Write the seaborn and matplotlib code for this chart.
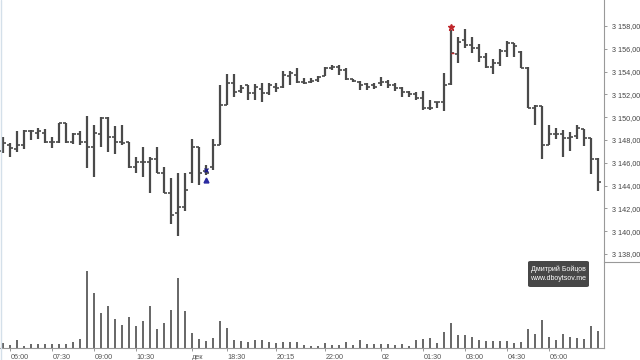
import numpy as np
import pandas as pd
import matplotlib
matplotlib.use("Agg")
import matplotlib.pyplot as plt
import matplotlib.patches as mpatches
from matplotlib.lines import Line2D
from matplotlib.ticker import FuncFormatter, FixedLocator
import seaborn as sns

# ---------------- data (15-minute bars) ----------------
opens = [3147.06, 3147.56, 3147.18, 3147.56, 3148.79, 3148.58, 3148.58, 3147.79, 3147.79, 3149.46,
         3147.79, 3148.52, 3147.79, 3147.36, 3148.52, 3149.90, 3148.29, 3147.79, 3147.86, 3145.66,
         3146.10, 3146.10, 3146.31, 3145.08, 3143.38, 3141.57, 3142.15, 3145.08, 3147.36, 3145.31,
         3145.60, 3147.56, 3151.07, 3153.03, 3152.30, 3152.82, 3152.09, 3152.50, 3152.09, 3152.68,
         3152.68, 3153.64, 3153.70, 3153.10, 3153.10, 3153.26, 3153.64, 3154.35, 3154.43, 3154.14,
         3153.35, 3153.12, 3152.88, 3152.82, 3152.97, 3153.12, 3152.82, 3152.59, 3152.18, 3152.00,
         3151.65, 3150.78, 3151.30, 3151.36, 3152.90, 3155.50, 3156.77, 3156.33, 3156.04, 3155.31,
         3154.43, 3154.78, 3155.84, 3156.48, 3155.75, 3154.29, 3150.78, 3150.98, 3147.56, 3148.53,
         3148.53, 3148.15, 3148.35, 3148.94, 3148.15, 3146.30]
highs = [3148.29, 3147.71, 3148.82, 3148.88, 3148.88, 3149.02, 3148.93, 3148.29, 3149.52, 3149.52,
         3148.64, 3148.82, 3150.10, 3149.31, 3150.05, 3150.05, 3149.23, 3149.30, 3147.86, 3146.54,
         3147.36, 3146.54, 3147.36, 3145.60, 3144.64, 3145.08, 3145.08, 3148.06, 3147.36, 3145.81,
         3148.06, 3152.83, 3153.79, 3153.79, 3152.82, 3152.82, 3152.88, 3152.97, 3152.97, 3152.97,
         3154.05, 3154.05, 3154.29, 3153.47, 3153.40, 3153.64, 3154.43, 3154.58, 3154.58, 3154.29,
         3153.35, 3153.17, 3152.97, 3152.97, 3153.56, 3153.26, 3152.97, 3152.68, 3152.30, 3152.18,
         3152.30, 3151.51, 3151.36, 3153.88, 3157.65, 3157.06, 3157.74, 3157.06, 3156.39, 3155.60,
         3155.08, 3155.95, 3156.71, 3156.54, 3155.84, 3154.43, 3151.07, 3150.98, 3149.32, 3149.02,
         3148.88, 3148.73, 3149.32, 3148.94, 3148.15, 3146.39]
lows = [3146.83, 3146.54, 3146.98, 3147.18, 3148.00, 3148.06, 3147.71, 3147.27, 3147.76, 3147.71,
        3147.65, 3147.56, 3145.51, 3144.78, 3147.41, 3146.98, 3146.77, 3147.56, 3145.52, 3145.08,
        3144.79, 3143.32, 3145.08, 3143.32, 3140.63, 3139.58, 3141.80, 3144.20, 3144.06, 3144.93,
        3145.37, 3147.56, 3151.07, 3151.80, 3152.09, 3151.50, 3151.50, 3151.36, 3151.95, 3152.24,
        3152.53, 3152.82, 3152.97, 3152.88, 3152.97, 3153.12, 3153.64, 3154.14, 3153.70, 3153.26,
        3153.12, 3152.39, 3152.39, 3152.47, 3152.77, 3152.53, 3152.30, 3151.80, 3151.80, 3151.51,
        3150.63, 3150.63, 3150.78, 3150.55, 3152.80, 3154.72, 3156.04, 3155.60, 3154.87, 3154.29,
        3153.79, 3154.49, 3155.25, 3155.25, 3154.29, 3150.78, 3149.32, 3146.30, 3147.56, 3148.06,
        3146.54, 3147.06, 3148.06, 3147.47, 3145.02, 3143.56]
closes = [3147.71, 3147.27, 3147.56, 3148.79, 3148.79, 3148.82, 3147.79, 3147.79, 3149.46, 3147.79,
          3148.52, 3147.79, 3147.36, 3148.64, 3149.90, 3148.29, 3147.79, 3147.70, 3145.60, 3146.10,
          3146.10, 3146.31, 3145.08, 3143.38, 3141.42, 3142.15, 3143.62, 3147.36, 3145.08, 3145.08,
          3147.56, 3151.07, 3153.03, 3152.24, 3152.53, 3152.09, 3152.68, 3152.10, 3152.82, 3152.53,
          3153.70, 3153.85, 3153.12, 3153.00, 3153.20, 3153.56, 3154.29, 3154.43, 3154.14, 3153.35,
          3153.20, 3152.82, 3152.68, 3152.68, 3153.12, 3152.82, 3152.59, 3152.24, 3152.06, 3151.72,
          3150.78, 3150.78, 3151.30, 3152.82, 3155.60, 3156.60, 3156.33, 3156.04, 3155.31, 3154.43,
          3154.78, 3155.84, 3156.54, 3156.25, 3154.29, 3150.78, 3150.98, 3147.56, 3148.53, 3148.53,
          3148.15, 3148.30, 3149.02, 3148.15, 3146.30, 3144.35]
volumes = [5, 3, 8, 2, 4, 4, 4, 4, 4, 4, 6, 9, 77, 55, 35, 42, 29, 23, 31, 22,
           27, 42, 19, 25, 38, 70, 37, 15, 9, 7, 10, 27, 20, 8, 7, 6, 8, 8, 6, 5,
           6, 6, 6, 3, 2, 2, 5, 3, 3, 6, 3, 8, 4, 4, 4, 4, 3, 4, 2, 8,
           9, 10, 5, 16, 25, 13, 13, 11, 8, 7, 7, 7, 7, 5, 6, 19, 14, 28, 11, 8,
           14, 11, 10, 9, 22, 17]
tick_bars = [1, 7, 13, 19, 27, 32, 39, 46, 54, 60, 66, 72, 78]
tick_labels = ["06:00", "07:30", "09:00", "10:30", "дек", "18:30", "20:15",
               "22:00", "02", "01:30", "03:00", "04:30", "06:00"]
price_ticks = [3138, 3140, 3142, 3144, 3146, 3148, 3150, 3152, 3154, 3156, 3158]
buy_signal_bar = 29
buy_signal_prices = [3145.37, 3144.49]
sell_signal_bar = 64
sell_signal_price = 3157.94

df = pd.DataFrame({"bar": np.arange(len(opens)), "open": opens, "high": highs,
                   "low": lows, "close": closes, "volume": volumes})

# ---------------- style ----------------
sns.set_theme(style="white")
plt.rcParams["font.family"] = ["Liberation Sans", "DejaVu Sans"]

W, H = 640, 360
fig = plt.figure(figsize=(6.4, 3.6), dpi=100)
fig.patch.set_facecolor("white")

axp = fig.add_axes([0, (H - 262) / H, 604 / W, 262 / H])
axv = fig.add_axes([0, (H - 348) / H, 604 / W, 86 / H])

bar_col = "#4a4a4a"
tw = 0.45
# OHLC bars
axp.vlines(df["bar"], df["low"], df["high"], color=bar_col, linewidth=1.6)
axp.hlines(df["open"], df["bar"] - tw, df["bar"], color=bar_col, linewidth=1.2)
axp.hlines(df["close"], df["bar"], df["bar"] + tw, color=bar_col, linewidth=1.2)

# signals
axp.plot([buy_signal_bar], [buy_signal_prices[0]], marker="x", ms=3, mew=1.0,
         color="#1c1c8a", ls="none")
axp.plot([buy_signal_bar], [buy_signal_prices[1]], marker="^", ms=3.5,
         color="#2a2aa0", ls="none")
axp.plot([sell_signal_bar], [sell_signal_price], marker="*", ms=5,
         color="#c0282d", ls="none")
axp.hlines([closes[sell_signal_bar]], [sell_signal_bar], [sell_signal_bar + tw],
           color="#c0282d", linewidth=1.0)

xlim = (-0.47, 85.81)
axp.set_xlim(*xlim)
axp.set_ylim(3137.30, 3160.28)
axp.yaxis.tick_right()
axp.yaxis.set_major_locator(FixedLocator(price_ticks))
axp.yaxis.set_major_formatter(FuncFormatter(
    lambda v, p: f"{v:,.2f}".replace(",", " ").replace(".", ",")))
axp.tick_params(axis="y", which="major", right=True, length=2.5, width=0.6,
                color="#888888", labelsize=5.2, labelcolor="#444444", pad=3)
axp.set_xticks([])
for s in ["top", "left", "bottom"]:
    axp.spines[s].set_visible(False)
axp.spines["right"].set_color("#999999")
axp.spines["right"].set_linewidth(0.8)

# volume
sns.barplot(data=df, x="bar", y="volume", ax=axv, color="#6a6a6a", saturation=1,
            width=0.3, native_scale=True, linewidth=0)
axv.set_xlim(*xlim)
axv.set_ylim(0, 86)
axv.set_yticks([])
axv.set_xlabel("")
axv.set_ylabel("")
axv.set_xticks(tick_bars)
axv.set_xticklabels(tick_labels)
for lab in axv.get_xticklabels():
    lab.set_horizontalalignment("left")
axv.tick_params(axis="x", bottom=True, length=2, width=0.6, color="#888888",
                labelsize=5.2, labelcolor="#555555", pad=2)
for s in ["top", "left"]:
    axv.spines[s].set_visible(False)
for s in ["bottom", "right"]:
    axv.spines[s].set_color("#999999")
    axv.spines[s].set_linewidth(0.8)
axv.patch.set_alpha(0)

# separators / border
fig.add_artist(Line2D([604 / W, 1], [(H - 262) / H] * 2, color="#999999",
                      linewidth=0.8, transform=fig.transFigure))
fig.add_artist(Line2D([0.6 / W] * 2, [0, 1], color="#d4e0ea",
                      linewidth=1.0, transform=fig.transFigure))

# watermark
box = mpatches.FancyBboxPatch((528 / W, (H - 287) / H), 61 / W, 26 / H,
                              boxstyle="round,pad=0,rounding_size=0.004",
                              transform=fig.transFigure, facecolor="#474747",
                              edgecolor="none")
fig.add_artist(box)
fig.text(558.5 / W, (H - 269.5) / H, "Дмитрий Бойцов", color="white", fontsize=5,
         ha="center", va="center")
fig.text(558.5 / W, (H - 279) / H, "www.dboytsov.me", color="white", fontsize=5,
         ha="center", va="center")

fig.savefig("out.png", dpi=100, facecolor="white")
